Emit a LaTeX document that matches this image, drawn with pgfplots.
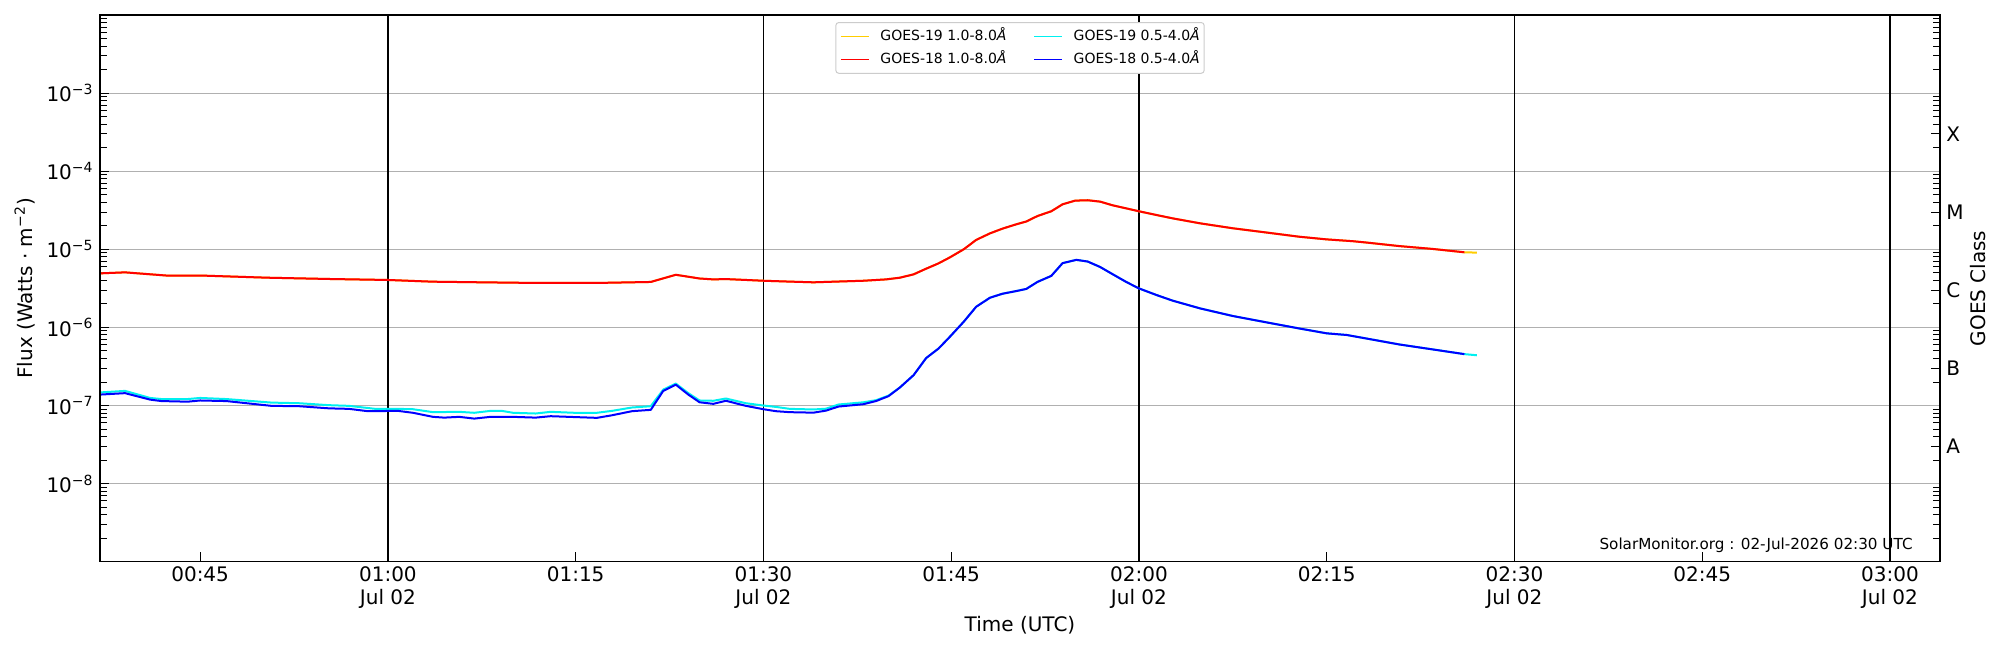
\documentclass[border=0pt]{standalone}
\usepackage{fontspec}
\setmainfont{DejaVu Sans}
\usepackage{pgfplots}
\usepackage{pgfplotstable}
\pgfplotsset{compat=1.18}
\usetikzlibrary{calc}

\definecolor{goesyellow}{RGB}{255,205,0}
\definecolor{goescyan}{RGB}{0,240,240}
\definecolor{goesred}{RGB}{255,0,0}
\definecolor{goesblue}{RGB}{0,0,255}
\definecolor{gridgray}{RGB}{176,176,176}

% time in minutes after 00:00 UTC, flux in W m^-2
\pgfplotstableread{
t f
37.0 4.92e-6
39.0 5.07e-6
42.5 4.59e-6
45.5 4.59e-6
50.4 4.33e-6
55.3 4.17e-6
60.0 4.05e-6
63.6 3.85e-6
67.5 3.78e-6
71.8 3.71e-6
76.7 3.71e-6
81.0 3.82e-6
83.0 4.72e-6
84.9 4.23e-6
86.0 4.12e-6
87.0 4.16e-6
90.0 3.96e-6
92.1 3.86e-6
94.0 3.78e-6
95.8 3.86e-6
98.0 3.96e-6
99.8 4.12e-6
100.9 4.33e-6
102.0 4.78e-6
103.0 5.65e-6
104.0 6.62e-6
104.9 7.89e-6
106.0 1.0e-5
107.0 1.32e-5
108.1 1.60e-5
109.1 1.84e-5
110.2 2.09e-5
111.0 2.27e-5
111.9 2.67e-5
113.0 3.07e-5
113.9 3.77e-5
114.9 4.20e-5
115.9 4.25e-5
116.9 4.08e-5
117.9 3.66e-5
119.0 3.34e-5
120.0 3.07e-5
121.4 2.75e-5
122.7 2.49e-5
124.9 2.15e-5
127.5 1.86e-5
130.2 1.64e-5
132.8 1.45e-5
135.0 1.34e-5
137.1 1.27e-5
138.2 1.22e-5
140.8 1.10e-5
143.5 1.01e-5
146.0 9.16e-6
}\gxviiiL

\pgfplotstableread{
t f
37.0 4.92e-6
39.0 5.07e-6
42.5 4.59e-6
45.5 4.59e-6
50.4 4.33e-6
55.3 4.17e-6
60.0 4.05e-6
63.6 3.85e-6
67.5 3.78e-6
71.8 3.71e-6
76.7 3.71e-6
81.0 3.82e-6
83.0 4.72e-6
84.9 4.23e-6
86.0 4.12e-6
87.0 4.16e-6
90.0 3.96e-6
92.1 3.86e-6
94.0 3.78e-6
95.8 3.86e-6
98.0 3.96e-6
99.8 4.12e-6
100.9 4.33e-6
102.0 4.78e-6
103.0 5.65e-6
104.0 6.62e-6
104.9 7.89e-6
106.0 1.0e-5
107.0 1.32e-5
108.1 1.60e-5
109.1 1.84e-5
110.2 2.09e-5
111.0 2.27e-5
111.9 2.67e-5
113.0 3.07e-5
113.9 3.77e-5
114.9 4.20e-5
115.9 4.25e-5
116.9 4.08e-5
117.9 3.66e-5
119.0 3.34e-5
120.0 3.07e-5
121.4 2.75e-5
122.7 2.49e-5
124.9 2.15e-5
127.5 1.86e-5
130.2 1.64e-5
132.8 1.45e-5
135.0 1.34e-5
137.1 1.27e-5
138.2 1.22e-5
140.8 1.10e-5
143.5 1.01e-5
146.0 9.16e-6
147.0 9.07e-6
}\gxixL

\pgfplotstableread{
t f
37.0 1.38e-7
39.0 1.44e-7
41.0 1.19e-7
41.9 1.14e-7
44.0 1.12e-7
45.0 1.16e-7
47.1 1.14e-7
50.7 9.9e-8
52.9 9.8e-8
55.3 9.2e-8
56.9 9.06e-8
58.4 8.46e-8
60.8 8.54e-8
62.0 8.07e-8
63.6 7.16e-8
64.5 7.0e-8
65.7 7.16e-8
66.9 6.8e-8
68.2 7.16e-8
70.0 7.16e-8
71.8 7.0e-8
73.0 7.3e-8
76.7 6.95e-8
77.9 7.5e-8
79.5 8.46e-8
81.0 8.8e-8
82.0 1.54e-7
83.0 1.85e-7
84.0 1.38e-7
84.9 1.10e-7
86.0 1.05e-7
87.0 1.15e-7
88.6 9.9e-8
90.0 8.97e-8
91.0 8.46e-8
92.1 8.22e-8
94.0 8.1e-8
95.0 8.6e-8
96.0 9.7e-8
98.0 1.04e-7
99.0 1.14e-7
100.0 1.32e-7
100.9 1.70e-7
102.0 2.45e-7
103.0 4.05e-7
104.0 5.38e-7
104.9 7.6e-7
106.0 1.18e-6
107.0 1.84e-6
108.1 2.40e-6
109.1 2.70e-6
110.2 2.92e-6
111.0 3.11e-6
111.9 3.83e-6
113.0 4.57e-6
113.9 6.65e-6
115.0 7.33e-6
115.9 6.98e-6
116.9 5.94e-6
117.9 4.80e-6
119.0 3.81e-6
120.0 3.16e-6
121.4 2.60e-6
122.7 2.20e-6
124.9 1.75e-6
127.5 1.40e-6
130.2 1.16e-6
132.8 9.7e-7
135.0 8.4e-7
136.6 8.0e-7
138.2 7.2e-7
140.8 6.05e-7
143.5 5.22e-7
146.0 4.55e-7
}\gxviiiS

\pgfplotstableread{
t f
37.0 1.47e-7
39.0 1.54e-7
41.0 1.25e-7
41.9 1.21e-7
44.0 1.21e-7
45.0 1.25e-7
47.1 1.21e-7
50.7 1.09e-7
52.9 1.07e-7
55.3 1.01e-7
56.9 9.9e-8
59.0 9.06e-8
60.8 9.06e-8
62.0 8.97e-8
63.6 8.22e-8
65.7 8.3e-8
66.9 8.07e-8
68.2 8.54e-8
69.1 8.54e-8
70.0 8.07e-8
71.8 7.9e-8
73.0 8.3e-8
74.9 8.07e-8
76.7 8.07e-8
77.9 8.54e-8
79.5 9.43e-8
81.0 9.8e-8
82.0 1.60e-7
83.0 1.91e-7
84.0 1.44e-7
84.9 1.16e-7
86.0 1.15e-7
87.0 1.23e-7
88.6 1.07e-7
90.0 1.0e-7
91.0 9.6e-8
92.1 9.06e-8
94.0 8.9e-8
95.0 9.1e-8
96.0 1.03e-7
98.0 1.10e-7
99.0 1.17e-7
100.0 1.34e-7
100.9 1.70e-7
102.0 2.45e-7
103.0 4.05e-7
104.0 5.38e-7
104.9 7.6e-7
106.0 1.18e-6
107.0 1.84e-6
108.1 2.40e-6
109.1 2.70e-6
110.2 2.92e-6
111.0 3.11e-6
111.9 3.83e-6
113.0 4.57e-6
113.9 6.65e-6
115.0 7.33e-6
115.9 6.98e-6
116.9 5.94e-6
117.9 4.80e-6
119.0 3.81e-6
120.0 3.16e-6
121.4 2.60e-6
122.7 2.20e-6
124.9 1.75e-6
127.5 1.40e-6
130.2 1.16e-6
132.8 9.7e-7
135.0 8.4e-7
136.6 8.0e-7
138.2 7.2e-7
140.8 6.05e-7
143.5 5.22e-7
146.0 4.55e-7
147.0 4.40e-7
}\gxixS

\pgfplotsset{
  goeslogminor/.style={minor ytick={2e-9,3e-9,4e-9,5e-9,6e-9,7e-9,8e-9,9e-9,
    2e-8,3e-8,4e-8,5e-8,6e-8,7e-8,8e-8,9e-8,
    2e-7,3e-7,4e-7,5e-7,6e-7,7e-7,8e-7,9e-7,
    2e-6,3e-6,4e-6,5e-6,6e-6,7e-6,8e-6,9e-6,
    2e-5,3e-5,4e-5,5e-5,6e-5,7e-5,8e-5,9e-5,
    2e-4,3e-4,4e-4,5e-4,6e-4,7e-4,8e-4,9e-4,
    2e-3,3e-3,4e-3,5e-3,6e-3,7e-3,8e-3,9e-3}},
}

\begin{document}
\begin{tikzpicture}
\begin{axis}[width=920pt, height=273.35pt, scale only axis,
  xmin=37, xmax=184, ymode=log, ymin=1e-9, ymax=1e-2,
  axis line style={line width=0.6pt},
  tick align=inside,
  major tick length=4.7pt, minor tick length=3.6pt,
  tick style={black, line width=0.5pt},
  ticklabel style={font=\fontsize{10}{11.5}\selectfont},
  label style={font=\fontsize{10}{12}\selectfont},
  goeslogminor,
  tick pos=left,
  xtick={45,75,105,135,165},
  xticklabels={00:45,01:15,01:45,02:15,02:45},
  extra x ticks={60,90,120,150,180},
  extra x tick labels={01:00\\Jul 02,01:30\\Jul 02,02:00\\Jul 02,02:30\\Jul 02,03:00\\Jul 02},
  extra x tick style={grid=major, major grid style={black, line width=0.65pt}},
  xticklabel style={align=center, inner sep=0pt, anchor=north, yshift=-2.5pt},
  ytick={1e-8,1e-7,1e-6,1e-5,1e-4,1e-3},
  yticklabels={10\textsuperscript{−8},10\textsuperscript{−7},10\textsuperscript{−6},10\textsuperscript{−5},10\textsuperscript{−4},10\textsuperscript{−3}},
  yticklabel style={inner sep=0pt, anchor=east, xshift=-3pt},
  ymajorgrids=true,
  major grid style={color=gridgray, line width=0.5pt},
  xlabel={Time (UTC)},
  every axis x label/.style={at={(axis description cs:0.5,0)}, anchor=center, yshift=-31.7pt},
  ylabel={Flux (Watts · m\textsuperscript{−2})},
  every axis y label/.style={at={(axis description cs:-0.0410,0.5)}, anchor=center, rotate=90},
  legend columns=2,
  legend cell align=left,
  legend style={at={(0.5,1)}, anchor=north, yshift=-3.5pt,
    draw=gray!40, line width=0.5pt, rounded corners=1.5pt, fill=white,
    font=\fontsize{7}{8}\selectfont,
    inner xsep=2.2pt, inner ysep=3.1pt, row sep=3.8pt,
    nodes={inner xsep=0pt, inner ysep=0.5pt, text height=5.2pt, text depth=1.5pt},
    /tikz/every odd column/.append style={column sep=5.5pt},
    /tikz/every even column/.append style={column sep=13.5pt}},
  legend image code/.code={\draw[#1, line width=0.7pt] (0pt,0pt) -- (13.9pt,0pt);},
]
\addplot[goesyellow, line width=1pt, no marks, line join=round] table[x=t, y=f] {\gxixL};
\addlegendentry{GOES-19 1.0-8.0\textit{Å}}
\addplot[goescyan, line width=1pt, no marks, line join=round] table[x=t, y=f] {\gxixS};
\addlegendentry{GOES-19 0.5-4.0\textit{Å}}
\addplot[goesred, line width=1pt, no marks, line join=round] table[x=t, y=f] {\gxviiiL};
\addlegendentry{GOES-18 1.0-8.0\textit{Å}}
\addplot[goesblue, line width=1pt, no marks, line join=round] table[x=t, y=f] {\gxviiiS};
\addlegendentry{GOES-18 0.5-4.0\textit{Å}}
\node[anchor=base east, inner sep=0pt, xshift=-13.5pt, yshift=6.35pt, font=\fontsize{7.6}{9}\selectfont] at (rel axis cs:1,0) {SolarMonitor.org : 02-Jul-2026 02:30 UTC};
\end{axis}
\begin{axis}[width=920pt, height=273.35pt, scale only axis,
  xmin=37, xmax=184, ymode=log, ymin=1e-9, ymax=1e-2,
  axis line style={line width=0.6pt},
  tick align=inside,
  major tick length=4.7pt, minor tick length=3.6pt,
  tick style={black, line width=0.5pt},
  ticklabel style={font=\fontsize{10}{11.5}\selectfont},
  label style={font=\fontsize{10}{12}\selectfont},
  goeslogminor,
  hide x axis,
  ytick pos=right, yticklabel pos=right,
  ytick={3e-8,3e-7,3e-6,3e-5,3e-4},
  yticklabels={A,B,C,M,X},
  yticklabel style={inner sep=0pt, anchor=west, xshift=3pt},
  ylabel={GOES Class},
  every axis y label/.style={at={(axis description cs:1.02065,0.5)}, anchor=center, rotate=90},
]
\addplot[draw=none, no marks, forget plot] coordinates {(40,1e-5) (50,1e-5)};
\end{axis}
\pgfresetboundingbox
\path[use as bounding box] ($(current axis.south west)+(-50pt,-44.15pt)$) rectangle ($(current axis.north east)+(30pt,7.5pt)$);
\end{tikzpicture}
\end{document}
